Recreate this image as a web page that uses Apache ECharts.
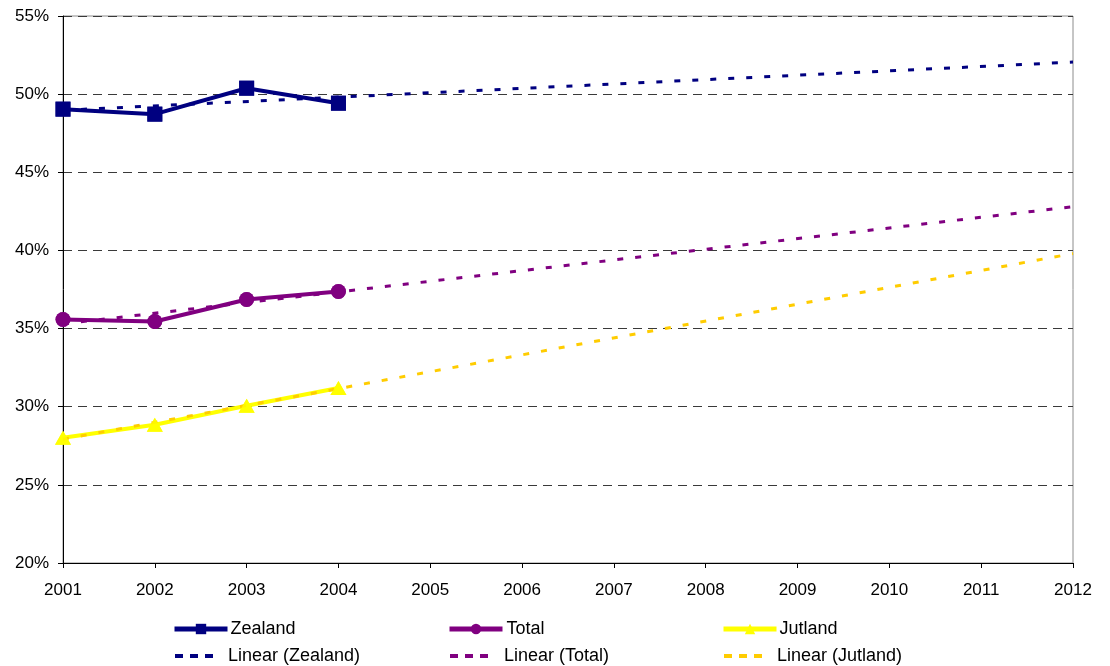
<!DOCTYPE html>
<html>
<head>
<meta charset="utf-8">
<script src="https://cdn.jsdelivr.net/npm/echarts@6/dist/echarts.min.js"></script>
<style>
  html, body { margin: 0; padding: 0; background: #fff; }
  #chart { width: 1110px; height: 666px; }
</style>
</head>
<body>
<div id="chart"></div>
<script>
// Years on the x axis
const years = ['2001','2002','2003','2004','2005','2006','2007','2008','2009','2010','2011','2012'];

// Observed shares (%) for 2001-2004
const zealand = [49.04, 48.72, 50.38, 49.42];
const total   = [35.58, 35.45, 36.86, 37.37];
const jutland = [28.02, 28.85, 30.06, 31.20];

// Linear trend lines: values at 2001 and at 2012
const zealandTrend = [48.97, null, null, null, null, null, null, null, null, null, null, 52.05];
const totalTrend   = [35.30, null, null, null, null, null, null, null, null, null, null, 42.80];
const jutlandTrend = [27.92, null, null, null, null, null, null, null, null, null, null, 39.80];

// Y axis range and step
const yMin = 20, yMax = 55, yStep = 5;

const FONT = '"Liberation Sans", Arial, sans-serif';
// three short dashes used as the legend key of the trend lines
const DASH_ICON = 'path://M0,0h8v4h-8z M15,0h8v4h-8z M30,0h8v4h-8z';
const chart = echarts.init(document.getElementById('chart'));

// Solid series line (markers drawn again on top by markerSeries)
function dataSeries(name, data, color, symbol, size) {
  return {
    name, type: 'line', data,
    symbol, symbolSize: size,
    itemStyle: { color },
    lineStyle: { color, width: 4 },
    z: 2
  };
}
function markerSeries(name, data, color, symbol, size) {
  return {
    name, type: 'scatter', data,
    symbol, symbolSize: size,
    itemStyle: { color },
    z: 5
  };
}
function trendSeries(name, data, color) {
  return {
    name, type: 'line', data,
    connectNulls: true,
    symbol: 'none',
    itemStyle: { color },
    lineStyle: { color, width: 3, type: [6, 12] },
    z: 3
  };
}
function legendItem(left, top, name, isTrend, textPad) {
  const l = {
    orient: 'horizontal', left, top, padding: 0,
    itemWidth: isTrend ? 38 : 53, itemHeight: isTrend ? 4 : 13,
    textStyle: { fontFamily: FONT, fontSize: 18, lineHeight: 18, color: '#000', padding: [0, 0, 0, textPad] },
    data: [isTrend ? { name, icon: DASH_ICON } : name]
  };
  if (!isTrend) l.lineStyle = { width: 5 };
  return l;
}

chart.setOption({
  animation: false,
  backgroundColor: '#fff',
  grid: {
    left: 63, right: 37, top: 16, bottom: 103,
    show: true, borderColor: '#8c8c8c', borderWidth: 1, backgroundColor: 'transparent'
  },
  legend: [
    legendItem(172, 620, 'Zealand', false, -2),
    legendItem(447, 620, 'Total', false, -1),
    legendItem(721, 620, 'Jutland', false, -2),
    legendItem(175, 647, 'Linear (Zealand)', true, 10),
    legendItem(450, 647, 'Linear (Total)', true, 11),
    legendItem(724, 647, 'Linear (Jutland)', true, 10)
  ],
  xAxis: {
    type: 'category', data: years, boundaryGap: false,
    axisLine: { lineStyle: { color: '#000', width: 1 } },
    axisTick: { show: true, length: 5, lineStyle: { color: '#000' } },
    axisLabel: { fontFamily: FONT, fontSize: 17, color: '#000', margin: 19 },
    splitLine: { show: false }
  },
  yAxis: {
    type: 'value', min: yMin, max: yMax, interval: yStep,
    axisLine: { show: true, lineStyle: { color: '#000', width: 1 } },
    axisTick: { show: true, length: 5, lineStyle: { color: '#000' } },
    axisLabel: { fontFamily: FONT, fontSize: 17, color: '#000', margin: 14, formatter: '{value}%' },
    splitLine: { show: true, lineStyle: { color: '#3a3a3a', width: 1, type: [9, 6] } }
  },
  series: [
    dataSeries('Zealand', zealand, '#000080', 'rect', 15),
    dataSeries('Total', total, '#800080', 'circle', 15),
    dataSeries('Jutland', jutland, '#FFFF00', 'triangle', [16, 14]),
    trendSeries('Linear (Zealand)', zealandTrend, '#000080'),
    trendSeries('Linear (Total)', totalTrend, '#800080'),
    trendSeries('Linear (Jutland)', jutlandTrend, '#FFCC00'),
    markerSeries('Zealand', zealand, '#000080', 'rect', 15),
    markerSeries('Total', total, '#800080', 'circle', 15),
    markerSeries('Jutland', jutland, '#FFFF00', 'triangle', [16, 14])
  ]
});
</script>
</body>
</html>
